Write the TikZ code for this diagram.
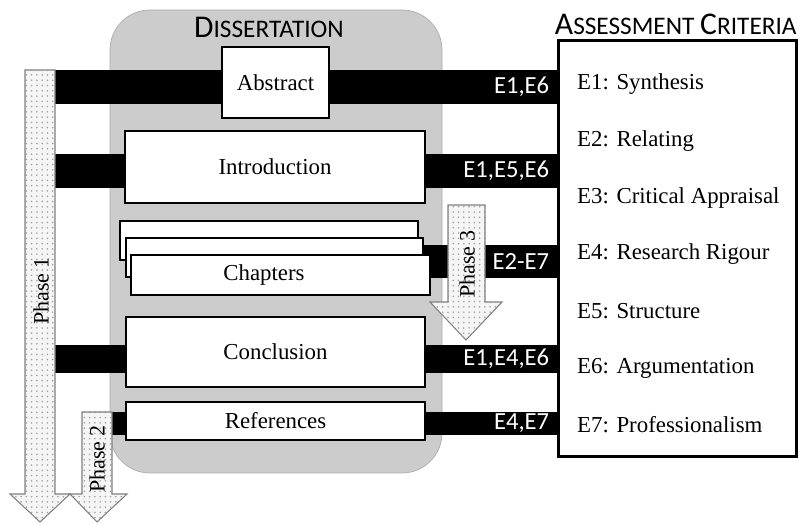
\documentclass[tikz,border=0pt]{standalone}
\usepackage{fontspec}
\setmainfont{Liberation Serif}
\newfontfamily\calfont{Carlito}
\usetikzlibrary{patterns, shadows}

\begin{document}
\begin{tikzpicture}[x=0.02cm, y=-0.02cm,
		panel/.style={fill=gray!40, draw=gray!65, rounded corners=0.8cm},
		docbox/.style={draw, fill=white, line width=1.4pt, font=\fontsize{13}{13}\selectfont, drop shadow={shadow xshift=0.8pt, shadow yshift=-0.8pt, opacity=0.35}},
		band/.style={draw=black, line width=#1},
		bandlbl/.style={text=white, font=\calfont\fontsize{14}{14}\selectfont, inner sep=0pt, anchor=east},
		phase/.style={draw=gray, line width=0.6pt, preaction={fill=gray!8}, pattern=dots, pattern color=gray!75},
		phaselbl/.style={rotate=90, font=\fontsize{12.5}{12.5}\selectfont},
		crit/.style={anchor=west, font=\fontsize{13}{13}\selectfont},
		hdr/.style={anchor=base, inner sep=0pt, font=\calfont}]
		\useasboundingbox (0,0) rectangle (799,523);
		%dissertation panel
			\draw [panel] (110,10) rectangle (442,473);
			\node [hdr] (dtitle) at (269,38) {\fontsize{18}{18}\selectfont D\fontsize{14.4}{14.4}\selectfont ISSERTATION};
		%criteria box
			\node [draw, fill=white, line width=1.7pt, minimum width=4.78cm, minimum height=8.34cm, drop shadow={shadow xshift=0.8pt, shadow yshift=-0.8pt, opacity=0.35}] (crit) at (677.5,248.5) {};
			\node [hdr, anchor=base east] (ctitle) at (797,35) {\fontsize{18}{18}\selectfont A\fontsize{14.4}{14.4}\selectfont SSESSMENT \fontsize{18}{18}\selectfont C\fontsize{14.4}{14.4}\selectfont RITERIA};
			\node [crit] (c1) at (571,84) {E1: Synthesis};
			\node [crit] (c2) at (571,140.8) {E2: Relating};
			\node [crit] (c3) at (571,197.6) {E3: Critical Appraisal};
			\node [crit] (c4) at (571,254.4) {E4: Research Rigour};
			\node [crit] (c5) at (571,311.2) {E5: Structure};
			\node [crit] (c6) at (571,368) {E6: Argumentation};
			\node [crit] (c7) at (571,424.8) {E7: Professionalism};
		%bands
			\coordinate (b1) at (40,87);
			\coordinate (b2) at (40,171);
			\coordinate (b3) at (400,261.5);
			\coordinate (b4) at (40,359);
			\coordinate (b5) at (97,423.5);
			\draw [band=0.68cm] (b1) to (b1 -| crit.west);
			\draw [band=0.68cm] (b2) to (b2 -| crit.west);
			\draw [band=0.66cm] (b3) to (b3 -| crit.west);
			\draw [band=0.56cm] (b4) to (b4 -| crit.west);
			\draw [band=0.46cm] (b5) to (b5 -| crit.west);
			\node [bandlbl] (l1) at ([xshift=-0.14cm]b1 -| crit.west) {E1,E6};
			\node [bandlbl] (l2) at ([xshift=-0.14cm]b2 -| crit.west) {E1,E5,E6};
			\node [bandlbl] (l3) at ([xshift=-0.14cm]b3 -| crit.west) {E2-E7};
			\node [bandlbl] (l4) at ([xshift=-0.14cm]b4 -| crit.west) {E1,E4,E6};
			\node [bandlbl] (l5) at ([xshift=-0.14cm]b5 -| crit.west) {E4,E7};
		%sections
			\node [docbox, minimum width=2.14cm, minimum height=1.42cm] (abs) at (275.5,82.5) {Abstract};
			\node [docbox, minimum width=6cm, minimum height=1.44cm] (intro) at (275,167) {Introduction};
			\node [docbox, minimum width=5.96cm, minimum height=0.78cm] (chapA) at (269,240.5) {};
			\node [docbox, minimum width=5.94cm, minimum height=0.78cm] (chapB) at (274.5,257.5) {};
			\node [docbox, minimum width=5.98cm, minimum height=0.8cm] (chapC) at (280.5,275) {};
			\node [font=\fontsize{13}{13}\selectfont] (chaptxt) at (264,275) {Chapters};
			\node [docbox, minimum width=5.98cm, minimum height=1.4cm] (concl) at (275.5,352) {Conclusion};
			\node [docbox, minimum width=5.98cm, minimum height=0.76cm] (refs) at (275.5,421) {References};
		%phases
			\draw [phase] (25,70) -- (55,70) -- (55,494) -- (70,494) -- (40,522) -- (10,494) -- (25,494) -- cycle;
			\node [phaselbl] (ph1) at (41,291) {Phase 1};
			\draw [phase] (82,412) -- (112,412) -- (112,494) -- (127,494) -- (97,522) -- (70,494) -- (82,494) -- cycle;
			\node [phaselbl] (ph2) at (97,459) {Phase 2};
			\draw [phase] (448,205) -- (485,205) -- (485,302) -- (502,302) -- (466,340) -- (430,302) -- (448,302) -- cycle;
			\node [phaselbl] (ph3) at (467,264) {Phase 3};
\end{tikzpicture}
\end{document}
